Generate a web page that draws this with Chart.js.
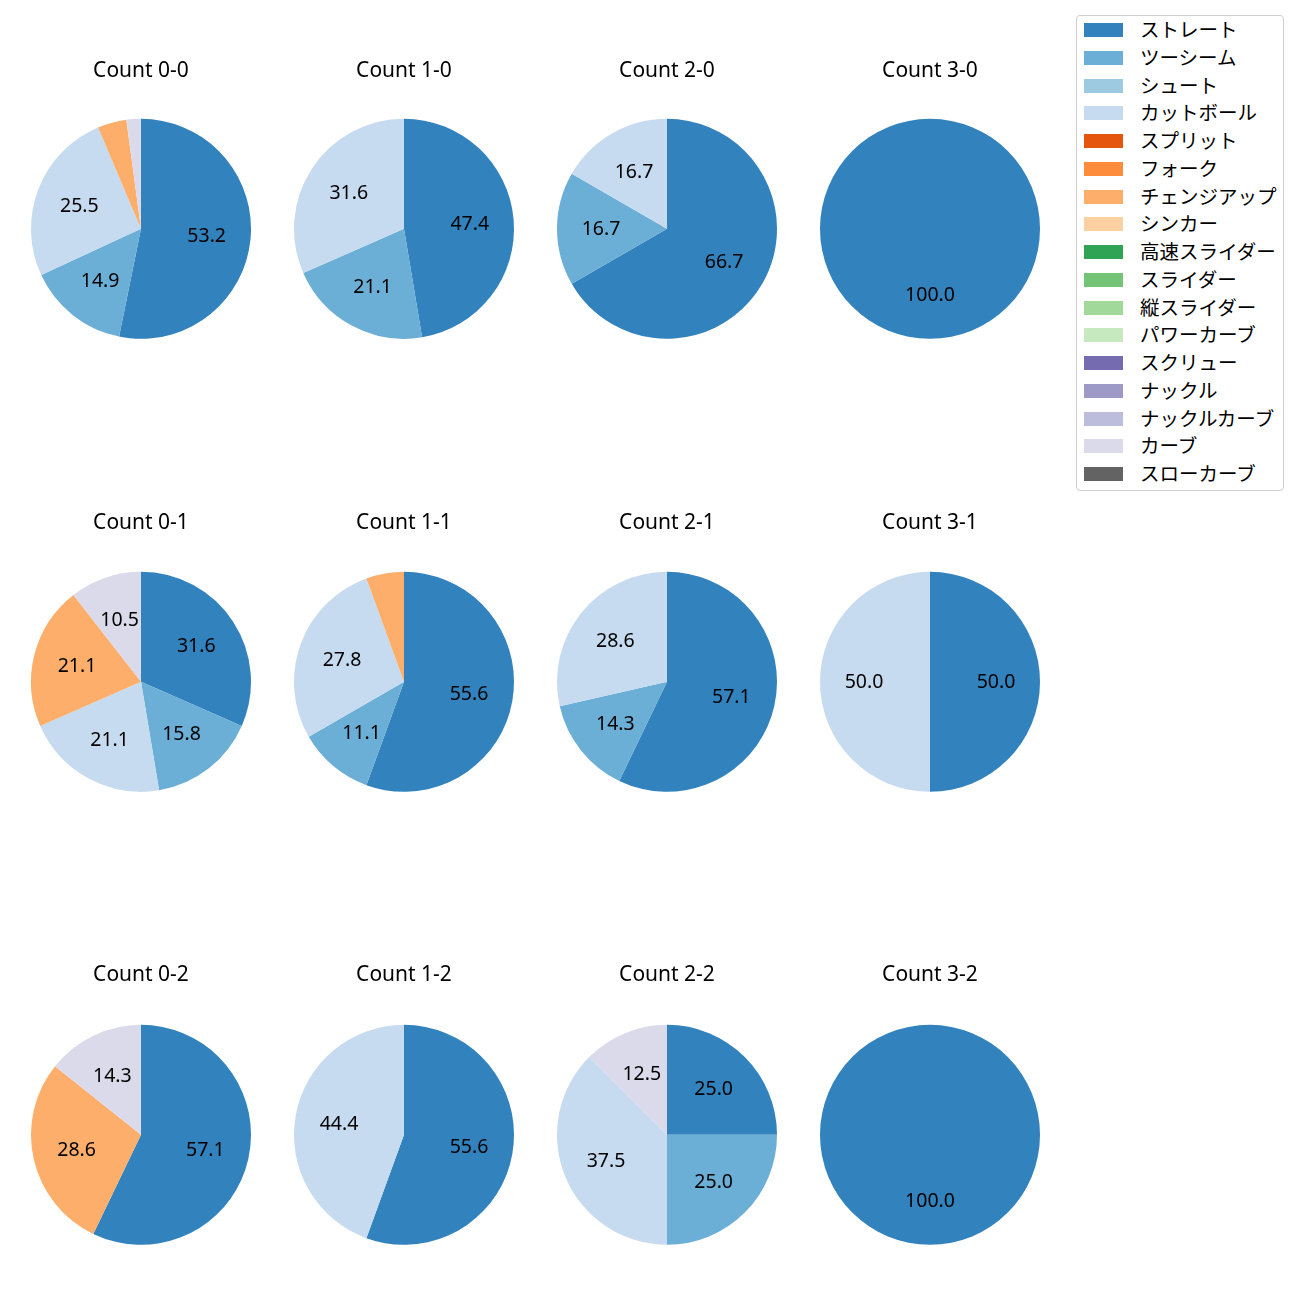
<!DOCTYPE html>
<html>
<head>
<meta charset="utf-8">
<script src="https://cdn.jsdelivr.net/npm/chart.js@4/dist/chart.umd.min.js"></script>
<style>
  body { margin: 0; background: #fff; }
  #wrap { position: relative; width: 1300px; height: 1300px; font-family: "Noto Sans CJK JP", "Noto Sans", sans-serif; }
  canvas.pie { position: absolute; }
  #legend { position: absolute; left: 1076px; top: 15px; width: 206px; height: 474px; border: 1px solid #d0d0d0; border-radius: 4px; }
  .item { position: absolute; left: 0; height: 20px; font-size: 19.5px; color: #000; white-space: nowrap; }
  .item .box { position: absolute; left: 7px; top: 4px; width: 39px; height: 14px; }
  .item .txt { position: absolute; left: 63px; top: -3px; line-height: 26px; }
</style>
</head>
<body>
<div id="wrap">
  <div id="legend"></div>
</div>
<script>
const pitchTypes = ['ストレート', 'ツーシーム', 'シュート', 'カットボール', 'スプリット', 'フォーク',
    'チェンジアップ', 'シンカー', '高速スライダー', 'スライダー', '縦スライダー', 'パワーカーブ',
    'スクリュー', 'ナックル', 'ナックルカーブ', 'カーブ', 'スローカーブ'];
const pitchColors = ['#3182bd', '#6baed6', '#9ecae1', '#c6dbef', '#e6550d', '#fd8d3c',
    '#fdae6b', '#fdd0a2', '#31a354', '#74c476', '#a1d99b', '#c7e9c0',
    '#756bb1', '#9e9ac8', '#bcbddc', '#dadaeb', '#636363'];

// pitches thrown per count, in pitchTypes order
const count00 = [25, 7, 0, 12, 0, 0, 2, 0, 0, 0, 0, 0, 0, 0, 0, 1, 0];
const count10 = [9, 4, 0, 6, 0, 0, 0, 0, 0, 0, 0, 0, 0, 0, 0, 0, 0];
const count20 = [4, 1, 0, 1, 0, 0, 0, 0, 0, 0, 0, 0, 0, 0, 0, 0, 0];
const count30 = [1, 0, 0, 0, 0, 0, 0, 0, 0, 0, 0, 0, 0, 0, 0, 0, 0];
const count01 = [6, 3, 0, 4, 0, 0, 4, 0, 0, 0, 0, 0, 0, 0, 0, 2, 0];
const count11 = [10, 2, 0, 5, 0, 0, 1, 0, 0, 0, 0, 0, 0, 0, 0, 0, 0];
const count21 = [4, 1, 0, 2, 0, 0, 0, 0, 0, 0, 0, 0, 0, 0, 0, 0, 0];
const count31 = [1, 0, 0, 1, 0, 0, 0, 0, 0, 0, 0, 0, 0, 0, 0, 0, 0];
const count02 = [4, 0, 0, 0, 0, 0, 2, 0, 0, 0, 0, 0, 0, 0, 0, 1, 0];
const count12 = [5, 0, 0, 4, 0, 0, 0, 0, 0, 0, 0, 0, 0, 0, 0, 0, 0];
const count22 = [2, 2, 0, 3, 0, 0, 0, 0, 0, 0, 0, 0, 0, 0, 0, 1, 0];
const count32 = [1, 0, 0, 0, 0, 0, 0, 0, 0, 0, 0, 0, 0, 0, 0, 0, 0];

const countNames = ['0-0', '1-0', '2-0', '3-0', '0-1', '1-1', '2-1', '3-1', '0-2', '1-2', '2-2', '3-2'];
const countData = [count00, count10, count20, count30, count01, count11, count21, count31,
    count02, count12, count22, count32];

const colX = [141, 404, 667, 930];
const rowY = [229, 682, 1135];
const titleY = [71, 523, 975];
const R = 110;
const FONT = '"Noto Sans", "Noto Sans CJK JP", sans-serif';
const TITLE_SIZE = 21;

// percent labels at 0.6 of the radius, only for slices of 10% or more
const pctLabels = {
    id: 'pctLabels',
    afterDatasetsDraw(chart) {
        const ctx = chart.ctx;
        const vals = chart.data.datasets[0].data;
        const total = vals.reduce((a, b) => a + b, 0);
        const meta = chart.getDatasetMeta(0);
        ctx.save();
        ctx.font = '19.5px ' + FONT;
        ctx.fillStyle = '#000';
        ctx.textAlign = 'center';
        ctx.textBaseline = 'middle';
        meta.data.forEach((arc, i) => {
            const pct = vals[i] / total * 100;
            if (pct < 10) return;
            const mid = (arc.startAngle + arc.endAngle) / 2;
            const r = arc.outerRadius * 0.6;
            ctx.fillText(pct.toFixed(1), arc.x + r * Math.cos(mid), arc.y + r * Math.sin(mid) + 1);
        });
        ctx.restore();
    }
};

const wrap = document.getElementById('wrap');
countData.forEach((vals, k) => {
    const col = k % 4;
    const row = Math.floor(k / 4);
    const cx = colX[col];
    const cy = rowY[row];
    const lineH = TITLE_SIZE * 1.2;
    const top = titleY[row] - lineH / 2 - 8;
    const canvas = document.createElement('canvas');
    canvas.className = 'pie';
    canvas.width = 240;
    canvas.height = Math.round(cy + R - top);
    canvas.style.left = (cx - 120) + 'px';
    canvas.style.top = top + 'px';
    wrap.appendChild(canvas);
    const padBottom = (cy - R) - (top + 8 + lineH);

    new Chart(canvas, {
        type: 'pie',
        data: {
            labels: pitchTypes,
            datasets: [{
                data: vals,
                backgroundColor: pitchColors,
                borderWidth: 0
            }]
        },
        options: {
            responsive: false,
            animation: false,
            layout: { padding: { left: 10, right: 10, top: 0, bottom: 0 } },
            plugins: {
                legend: { display: false },
                tooltip: { enabled: false },
                title: {
                    display: true,
                    text: 'Count ' + countNames[k],
                    color: '#000',
                    font: { family: FONT, size: TITLE_SIZE, weight: 'normal', lineHeight: 1.2 },
                    padding: { top: 8, bottom: padBottom }
                }
            }
        },
        plugins: [pctLabels]
    });
});

const legend = document.getElementById('legend');
pitchTypes.forEach((name, i) => {
    const item = document.createElement('div');
    item.className = 'item';
    item.style.top = (3 + i * 27.75) + 'px';
    item.innerHTML = '<span class="box" style="background:' + pitchColors[i] + '"></span><span class="txt">' + name + '</span>';
    legend.appendChild(item);
});
</script>
</body>
</html>
